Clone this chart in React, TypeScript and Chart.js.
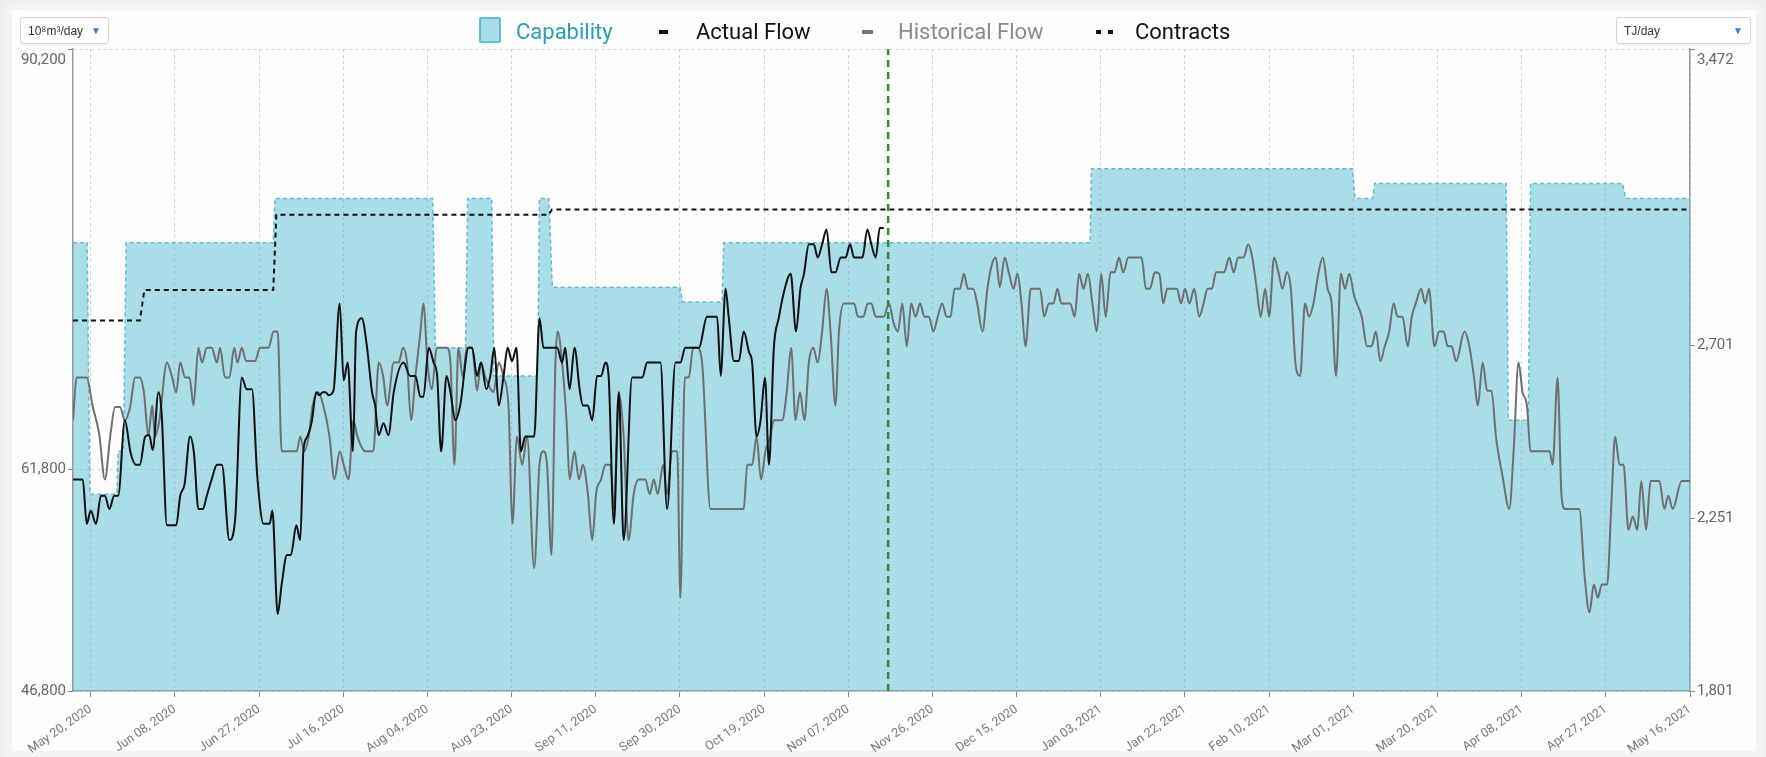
import React, { useEffect, useRef } from 'react';
import { Chart, registerables } from 'chart.js';
Chart.register(...registerables);

// x values are day offsets from 2020-05-16 (day 0) to 2021-05-16 (day 365)
const xMin = 0;
const xMax = 365;
const xTickDays = [4, 23, 42, 61, 80, 99, 118, 137, 156, 175, 194, 213, 232, 251, 270, 289, 308, 327, 346, 365];
const xTickLabels = [
  'May 20, 2020', 'Jun 08, 2020', 'Jun 27, 2020', 'Jul 16, 2020', 'Aug 04, 2020', 'Aug 23, 2020',
  'Sep 11, 2020', 'Sep 30, 2020', 'Oct 19, 2020', 'Nov 07, 2020', 'Nov 26, 2020', 'Dec 15, 2020',
  'Jan 03, 2021', 'Jan 22, 2021', 'Feb 10, 2021', 'Mar 01, 2021', 'Mar 20, 2021', 'Apr 08, 2021',
  'Apr 27, 2021', 'May 16, 2021',
];

// left axis (10^8 m3/day) and right axis (TJ/day)
const leftMin = 46800;
const leftMax = 90200;
const leftTicks = [46800, 61800, 90200];
const rightMin = 1801;
const rightMax = 3472;
const rightTicks = [1801, 2251, 2701, 3472];

const todayDay = [184];

const capabilityDays = [0, 3.2, 3.8, 9.9, 10.2, 11.4, 12.0, 45.2, 45.6, 81.2, 81.8, 88.6, 89.1, 94.5, 95.0, 104.9, 105.3, 107.4, 108.2, 137.0, 137.6, 146.5, 146.9, 229.6, 229.9, 288.8, 289.4, 293.4, 293.8, 323.5, 324.0, 328.5, 329.0, 349.8, 350.5, 365];
const capabilityValues = [77100, 77100, 60100, 60100, 63000, 63000, 77100, 77100, 80100, 80100, 70000, 70000, 80100, 80100, 68100, 68100, 80100, 80100, 74100, 74100, 73100, 73100, 77100, 77100, 82100, 82100, 80100, 80100, 81100, 81100, 65100, 65100, 81100, 81100, 80100, 80100];

const contractDays = [0, 15.1, 16.1, 45.2, 45.9, 107.4, 108.1, 365];
const contractValues = [71850, 71850, 73900, 73900, 79000, 79000, 79350, 79350];

const actualFlow: [number, number][] = [
  [0, 61100], [2.2, 61100], [3.1, 58100], [4.0, 59000], [5.2, 58100], [6.3, 60000], [7.2, 60000], [8.2, 59100], [9.3, 60000], [10.2, 60000],
  [11.7, 65100], [13.0, 62900], [14.2, 62100], [15.1, 62100], [16.3, 64000], [17.2, 64100], [18.0, 63100], [19.3, 67000], [20.0, 65600], [21.2, 58000],
  [23.3, 58000], [24.2, 60000], [25.2, 60800], [26.4, 64000], [27.3, 62900], [28.3, 59100], [29.3, 59100], [30.2, 60000], [31.3, 61100], [32.5, 62100],
  [33.6, 62100], [35.3, 57000], [36.6, 58400], [38.1, 68000], [39.2, 67200], [40.4, 67200], [41.6, 61300], [43.0, 58100], [44.4, 58100], [45.0, 59000],
  [46.2, 52000], [47.1, 54000], [48.3, 56000], [49.2, 56000], [50.4, 58000], [51.3, 57000], [52.0, 63000], [52.9, 64000], [53.9, 65000], [54.9, 67000],
  [55.6, 66800], [56.4, 67000], [57.0, 67000], [57.7, 66800], [58.8, 67100], [60.2, 73000], [61.1, 67800], [62.0, 69000], [63.2, 63000], [63.9, 71100],
  [65.2, 72000], [66.3, 70200], [67.5, 67000], [68.2, 66100], [69.0, 64100], [70.1, 64900], [71.2, 64100], [72.4, 67000], [74.6, 69000], [76.1, 68100],
  [77.3, 68100], [78.4, 66700], [79.1, 66700], [80.3, 70000], [81.4, 69000], [82.2, 68100], [83.1, 63000], [84.3, 68100], [85.2, 67000], [86.3, 65100],
  [87.4, 66100], [89.3, 70000], [90.1, 70000], [91.2, 68100], [92.1, 69000], [93.3, 67200], [94.2, 68100], [95.1, 70000], [96.1, 66100], [97.2, 68100],
  [98.1, 70000], [99.1, 69100], [100.1, 70000], [101.1, 63000], [102.1, 64000], [104.1, 64000], [105.3, 72000], [106.2, 70000], [109.3, 70000], [110.4, 69000],
  [111.1, 70000], [112.1, 67200], [113.2, 70000], [114.4, 67100], [115.1, 66100], [116.2, 66100], [117.2, 65100], [118.3, 68100], [119.2, 68100], [120.2, 69000],
  [120.9, 68100], [122.1, 58100], [123.2, 67000], [124.3, 57000], [126.2, 68000], [128.5, 68000], [129.6, 69000], [132.6, 69000], [134.1, 59100], [136.0, 69000],
  [137.1, 69000], [138.2, 70000], [141.3, 70000], [143.1, 72100], [145.4, 72100], [146.2, 68100], [147.3, 74000], [148.0, 72100], [149.2, 69100], [150.3, 69100],
  [151.4, 71100], [152.6, 69700], [153.3, 69000], [154.3, 64000], [155.2, 65100], [156.2, 68000], [157.1, 62100], [158.2, 70000], [159.3, 72000], [160.5, 73800],
  [162.0, 75000], [163.2, 71100], [164.2, 74000], [165.0, 75000], [166.1, 77000], [167.2, 77000], [168.1, 76100], [169.1, 77000], [170.1, 78000], [171.2, 75100],
  [172.1, 75100], [173.3, 76100], [174.4, 76100], [175.4, 77000], [176.3, 76100], [178.2, 76100], [179.3, 78000], [180.2, 77000], [181.2, 76100], [182.1, 78100],
  [183.0, 78100],
];

const historicalFlow: [number, number][] = [
  [0, 65100], [0.8, 68000], [3.1, 68000], [4.4, 66100], [5.9, 64200], [7.2, 61100], [8.4, 64000], [9.5, 66000], [10.6, 66000], [11.7, 65100],
  [12.9, 66000], [14.0, 68000], [15.1, 68000], [16.0, 67000], [17.0, 64100], [17.9, 66100], [18.5, 64000], [19.5, 65100], [21.2, 69000], [22.3, 68100],
  [23.3, 67000], [24.2, 69000], [25.3, 68000], [26.3, 68000], [27.2, 66100], [28.3, 70000], [29.1, 69000], [30.2, 70000], [31.3, 70000], [32.5, 69000],
  [33.2, 70000], [34.3, 68000], [35.3, 68000], [36.4, 70000], [37.1, 69000], [38.1, 70000], [39.1, 69100], [41.1, 69100], [42.2, 70000], [44.1, 70000],
  [45.3, 71100], [46.2, 71100], [47.1, 63000], [50.5, 63000], [51.3, 64000], [52.2, 63000], [53.2, 64000], [54.1, 66100], [55.4, 67000], [56.5, 66100],
  [57.9, 64000], [59.0, 61100], [60.2, 63000], [61.1, 62100], [62.2, 61100], [63.3, 65100], [64.2, 64000], [66.0, 63000], [67.8, 63000], [69.0, 69000],
  [70.0, 68100], [70.9, 66100], [72.4, 69000], [73.5, 69000], [74.5, 70000], [75.4, 69000], [76.3, 65100], [77.3, 68100], [78.4, 71000], [79.1, 73000],
  [80.0, 69000], [81.0, 67200], [82.1, 70000], [84.4, 70000], [85.2, 69000], [86.1, 62100], [87.0, 70000], [88.0, 68000], [88.9, 70000], [90.1, 70000],
  [91.2, 67100], [92.1, 69000], [93.1, 68000], [94.9, 67000], [96.1, 69000], [97.2, 68000], [98.3, 66100], [99.2, 58100], [100.2, 64000], [101.4, 62100],
  [102.5, 64000], [104.1, 55100], [105.3, 62100], [106.2, 63000], [107.0, 62100], [108.0, 56000], [108.9, 69000], [109.4, 71100], [110.4, 69000], [111.4, 65100],
  [112.1, 61100], [113.2, 63000], [114.2, 61100], [115.1, 62100], [116.2, 60200], [117.2, 57000], [118.1, 60200], [119.2, 61100], [120.2, 62100], [121.3, 62100],
  [122.1, 59100], [123.2, 67000], [124.3, 64000], [125.4, 57000], [126.6, 60200], [127.7, 61100], [129.2, 61100], [130.2, 60100], [131.1, 61100], [132.0, 60100],
  [133.2, 62100], [134.1, 60100], [135.2, 63000], [136.4, 63000], [137.1, 53100], [138.1, 68000], [139.0, 68000], [140.0, 70000], [140.9, 70000], [142.0, 69000],
  [143.9, 59100], [151.4, 59100], [152.2, 62100], [153.3, 62100], [154.3, 64000], [155.3, 61100], [156.3, 63000], [157.4, 64000], [158.2, 65100], [160.1, 65100],
  [161.1, 67000], [162.1, 70000], [163.1, 65100], [164.1, 67000], [165.1, 65100], [166.1, 69000], [167.1, 70000], [168.1, 69000], [169.1, 71100], [170.1, 74000],
  [171.0, 71100], [172.1, 66100], [172.9, 71100], [174.0, 73000], [176.3, 73000], [177.2, 72100], [178.4, 72100], [179.4, 73000], [180.2, 73000], [181.2, 72100],
  [183.0, 72100], [184.2, 73000], [185.2, 71700], [186.2, 71100], [187.2, 73000], [188.2, 70100], [189.2, 73000], [190.2, 72100], [191.2, 73000], [192.2, 72100],
  [193.2, 72100], [194.2, 71100], [195.2, 72100], [196.2, 73000], [197.2, 72100], [198.1, 72100], [199.0, 74000], [200.2, 74000], [201.1, 75000], [202.0, 74000],
  [203.2, 74000], [204.1, 73000], [205.3, 71100], [206.4, 74000], [207.4, 75600], [208.3, 76100], [209.2, 74100], [210.3, 76100], [211.3, 75000], [212.3, 74000],
  [213.2, 75000], [214.1, 73000], [215.0, 70100], [216.2, 74000], [218.3, 74000], [219.2, 72100], [220.3, 73000], [221.3, 73000], [222.2, 74000], [223.1, 73000],
  [225.1, 73000], [226.1, 72100], [227.1, 75000], [228.1, 74000], [229.1, 75000], [230.1, 73000], [231.1, 71100], [232.1, 75000], [233.1, 72100], [234.2, 75100],
  [235.1, 75100], [236.1, 76100], [237.1, 75100], [238.2, 76100], [241.2, 76100], [242.2, 74000], [243.1, 74000], [244.2, 75100], [245.2, 75000], [246.1, 73000],
  [247.0, 74000], [249.2, 74000], [250.1, 73000], [251.0, 74000], [252.0, 73000], [253.1, 74000], [254.2, 72100], [255.2, 73000], [256.1, 74000], [257.1, 74000],
  [258.0, 75100], [259.8, 75100], [261.0, 76100], [262.0, 75100], [263.0, 76100], [264.2, 76100], [265.3, 77000], [266.2, 76100], [267.2, 74000], [268.1, 72100],
  [269.1, 74000], [270.0, 72100], [271.1, 76100], [272.1, 75100], [273.0, 74000], [274.0, 75100], [274.9, 74000], [276.0, 68800], [277.0, 68100], [278.1, 73000],
  [279.0, 72100], [280.0, 73000], [281.1, 75000], [282.1, 76100], [283.2, 74000], [284.1, 73000], [285.1, 68100], [286.2, 75000], [287.1, 74000], [288.1, 75000],
  [289.2, 73500], [290.9, 72100], [292.1, 70100], [293.1, 70100], [294.1, 71100], [295.1, 69100], [296.1, 70100], [297.1, 71100], [298.1, 73000], [299.0, 72100],
  [300.1, 72100], [301.3, 70100], [302.2, 72100], [303.1, 73000], [304.3, 74000], [305.2, 73000], [306.1, 74000], [307.3, 70100], [308.4, 71100], [309.4, 71100],
  [310.3, 70100], [311.2, 70100], [312.2, 69100], [314.1, 71100], [315.2, 70100], [316.2, 68100], [317.1, 66100], [318.2, 69000], [319.2, 67100], [320.2, 67100],
  [321.2, 64000], [322.7, 61300], [324.2, 59100], [325.2, 63100], [326.3, 69000], [327.2, 67000], [328.2, 66100], [329.0, 63000], [333.3, 63000], [334.0, 62100],
  [335.1, 68000], [336.0, 60000], [336.8, 59100], [340.0, 59100], [341.2, 54600], [342.3, 52100], [343.3, 54000], [344.2, 53100], [345.1, 54000], [346.3, 54000],
  [347.2, 59100], [348.1, 64000], [349.1, 62100], [350.0, 62100], [351.1, 57700], [352.1, 58600], [353.1, 57700], [354.0, 61000], [355.1, 57700], [356.1, 61000],
  [358.1, 61000], [359.2, 59100], [360.1, 60000], [361.1, 59100], [363.1, 61000], [365, 61000],
];

const W = 1766;
const H = 757;
const FONT = 'Roboto, "Noto Sans", sans-serif';

export default function App() {
  const ref = useRef<HTMLCanvasElement>(null);

  useEffect(() => {
    const canvas = ref.current;
    if (!canvas) return;
    const pairs = (d: [number, number][]) => d.map(([x, y]) => ({ x, y }));
    const zipXY = (xs: number[], ys: number[]) => xs.map((x, i) => ({ x, y: ys[i] }));
    // the top tick label sits just below the top of the axis, like the original
    const yLabel = (max: number) => (v: any) => {
      const s = Number(v).toLocaleString('en-US');
      return Number(v) === max ? ['', s] : s;
    };

    const chart = new Chart(canvas, {
      type: 'line',
      data: {
        datasets: [
          {
            label: 'Today',
            data: [{ x: todayDay[0], y: leftMin }, { x: todayDay[0], y: leftMax }],
            borderColor: '#2f8a3c',
            borderWidth: 2.5,
            borderDash: [7, 5],
            pointRadius: 0,
            fill: false,
            order: 1,
          },
          {
            label: 'Actual Flow',
            data: pairs(actualFlow),
            borderColor: '#111111',
            borderWidth: 2,
            pointRadius: 0,
            cubicInterpolationMode: 'monotone',
            fill: false,
            order: 2,
          },
          {
            label: 'Contracts',
            data: zipXY(contractDays, contractValues),
            borderColor: '#111111',
            borderWidth: 2,
            borderDash: [5, 4],
            pointRadius: 0,
            fill: false,
            order: 3,
          },
          {
            label: 'Historical Flow',
            data: pairs(historicalFlow),
            borderColor: '#6f6f6f',
            borderWidth: 2,
            pointRadius: 0,
            cubicInterpolationMode: 'monotone',
            fill: false,
            order: 4,
          },
          {
            label: 'Capability',
            data: zipXY(capabilityDays, capabilityValues),
            borderColor: '#62bccf',
            borderWidth: 1.5,
            borderDash: [4, 3],
            backgroundColor: 'rgba(86,190,212,0.5)',
            pointRadius: 0,
            fill: 'start',
            order: 5,
          },
        ],
      },
      options: {
        animation: false,
        responsive: false,
        devicePixelRatio: 1,
        events: [],
        layout: { padding: { top: 49, left: 0, right: 0, bottom: 0 } },
        plugins: { legend: { display: false }, tooltip: { enabled: false }, title: { display: false } },
        scales: {
          x: {
            type: 'linear',
            min: xMin,
            max: xMax,
            afterBuildTicks: (scale: any) => {
              scale.ticks = xTickDays.map((v) => ({ value: v }));
            },
            afterFit: (scale: any) => {
              scale.height = 66;
            },
            ticks: {
              autoSkip: false,
              minRotation: 35,
              maxRotation: 35,
              padding: 5,
              color: '#7a7a7a',
              font: { family: FONT, size: 12.5 },
              callback: (_v: any, i: number) => xTickLabels[i],
            },
            grid: { color: '#cfcfcf', tickColor: '#8a8a8a', tickLength: 6, lineWidth: 1 },
            border: { display: true, color: '#9a9a9a', width: 1.5, dash: [3, 3] },
          },
          y: {
            type: 'linear',
            position: 'left',
            min: leftMin,
            max: leftMax,
            afterBuildTicks: (scale: any) => {
              scale.ticks = leftTicks.map((v) => ({ value: v }));
            },
            afterFit: (scale: any) => {
              scale.width = 73;
            },
            ticks: {
              color: '#666666',
              padding: 2,
              font: { family: FONT, size: 15, lineHeight: 1.5 },
              callback: yLabel(leftMax),
            },
            grid: { color: '#d6d6d6', tickColor: '#8a8a8a', tickLength: 5 },
            border: { display: true, color: '#9a9a9a', width: 1.5, dash: [3, 3] },
          },
          y2: {
            type: 'linear',
            position: 'right',
            min: rightMin,
            max: rightMax,
            afterBuildTicks: (scale: any) => {
              scale.ticks = rightTicks.map((v) => ({ value: v }));
            },
            afterFit: (scale: any) => {
              scale.width = 76;
            },
            ticks: {
              color: '#666666',
              padding: 2,
              font: { family: FONT, size: 15, lineHeight: 1.5 },
              callback: yLabel(rightMax),
            },
            grid: { drawOnChartArea: false, tickColor: '#8a8a8a', tickLength: 5 },
            border: { display: true, color: '#9a9a9a', width: 1.5 },
          },
        },
      },
    } as any);
    return () => chart.destroy();
  }, []);

  const legendText: React.CSSProperties = {
    position: 'absolute',
    top: 18,
    fontFamily: FONT,
    fontSize: 22,
    lineHeight: '28px',
    whiteSpace: 'nowrap',
  };
  const dropdown: React.CSSProperties = {
    position: 'absolute',
    top: 17,
    height: 27,
    boxSizing: 'border-box',
    border: '1px solid #d4d4d4',
    borderRadius: 3,
    background: '#ffffff',
    boxShadow: '0 1px 2px rgba(0,0,0,0.06)',
    fontFamily: '"Liberation Sans", Arial, sans-serif',
    fontSize: 12,
    color: '#333',
    display: 'flex',
    alignItems: 'center',
    justifyContent: 'space-between',
    padding: '0 7px',
  };
  const arrow: React.CSSProperties = { color: '#3c7bd4', fontSize: 10 };

  return (
    <div style={{ position: 'fixed', left: 0, top: 0, width: W, height: H, background: '#ececec', overflow: 'hidden' }}>
      <div style={{ position: 'absolute', left: 12, top: 10, right: 10, bottom: 6, background: '#fdfdfd', boxShadow: '0 0 10px 6px #f6f6f6' }} />
      <canvas ref={ref} width={W} height={H} style={{ position: 'absolute', left: 0, top: 0, width: W, height: H }} />
      <div style={{ ...dropdown, left: 20, width: 89 }}>
        <span>10⁸m³/day</span>
        <span style={arrow}>▼</span>
      </div>
      <div style={{ ...dropdown, left: 1616, width: 135 }}>
        <span>TJ/day</span>
        <span style={arrow}>▼</span>
      </div>
      <div style={{ position: 'absolute', left: 479, top: 17, width: 22, height: 26, boxSizing: 'border-box', background: '#a9dee9', border: '2px solid #5cc0d3', borderRadius: 2 }} />
      <div style={{ ...legendText, left: 516, color: '#2b9db4' }}>Capability</div>
      <div style={{ position: 'absolute', left: 659, top: 30, width: 9, height: 4, background: '#111' }} />
      <div style={{ ...legendText, left: 696, color: '#111' }}>Actual Flow</div>
      <div style={{ position: 'absolute', left: 862, top: 30, width: 11, height: 4, background: '#777' }} />
      <div style={{ ...legendText, left: 898, color: '#8a8a8a' }}>Historical Flow</div>
      <div style={{ position: 'absolute', left: 1096, top: 30, width: 5, height: 4, background: '#111' }} />
      <div style={{ position: 'absolute', left: 1108, top: 30, width: 5, height: 4, background: '#111' }} />
      <div style={{ ...legendText, left: 1135, color: '#111' }}>Contracts</div>
    </div>
  );
}
